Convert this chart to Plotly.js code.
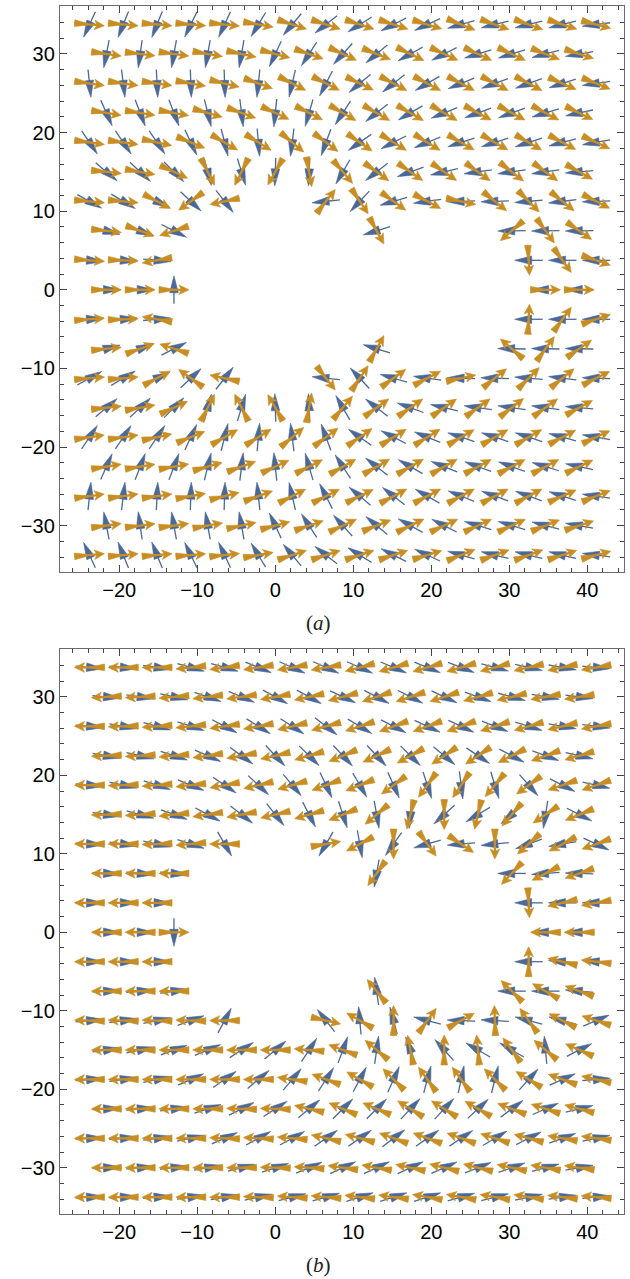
<!DOCTYPE html>
<html><head><meta charset="utf-8">
<script src="https://cdn.plot.ly/plotly-3.0.1.min.js"></script>
<style>html,body{margin:0;padding:0;background:#fff}</style>
</head><body><div id="chart" style="width:630px;height:1279px"></div>
<script>
// ---------- data ----------
const rowY = [33.75, 30, 26.25, 22.5, 18.75, 15, 11.25, 7.5, 3.75, 0, -3.75, -7.5, -11.25, -15, -18.75, -22.5, -26.25, -30, -33.75];
const xOdd  = [-23.82, -19.49, -15.16, -10.83, -6.50, -2.17, 2.17, 6.50, 10.83, 15.16, 19.49, 23.82, 28.15, 32.48, 36.81, 41.14];
const xEven = [-21.65, -17.32, -12.99, -8.66, -4.33, 0, 4.33, 8.66, 12.99, 17.32, 21.65, 25.98, 30.31, 34.64, 38.97];
const xR11 = [-23.82, -19.49, -15.16, -10.83, -6.50, 6.50, 10.83, 15.16, 19.49, 23.82, 28.15, 32.48, 36.81, 41.14];
const xR7  = [-21.65, -17.32, -12.99, 12.99, 30.31, 34.64, 38.97];
const xR3  = [-23.82, -19.49, -15.16, 32.48, 36.81, 41.14];
const xR0  = [-21.65, -17.32, -12.99, 34.64, 38.97];
const rowX = [xOdd, xEven, xOdd, xEven, xOdd, xEven, xR11, xR7, xR3, xR0, xR3, xR7, xR11, xEven, xOdd, xEven, xOdd, xEven, xOdd];

// panel (a): directions in degrees
const aBlue = [
 [-115,-112,-112,-116,-115,-121,-130,-142,-148,-153,-155,-164,-166,-166,-166,-173],
 [-101,-98,-100,-100,-100,-115,-123,-132,-140,-151,-153,-163,-163,-165,-170],
 [-84,-83,-87,-88,-88,-96,-103,-117,-140,-142,-150,-158,-160,-160,-162,-172],
 [-66,-69,-69,-76,-83,-96,-106,-123,-142,-150,-158,-160,-160,-163,-168],
 [-56,-56,-56,-65,-76,-85,-97,-110,-145,-153,-158,-162,-162,-162,-165,-170],
 [-40,-43,-45,-75,-73,-92,-93,-120,-142,-160,-167,-172,-172,-172,-175],
 [-29,-31,-25,-43,-52,-174,-133,-164,-172,-178,-178,-175,-173,-178],
 [-15,-22,-27,-163,-179,-179,-179],
 [-5,-5,-5,180,180,180],
 [0,0,90,180,180],
 [5,5,5,180,180,180],
 [15,22,27,163,179,179,179],
 [29,31,25,43,52,174,133,164,172,178,178,175,173,178],
 [40,43,45,75,73,92,93,120,142,160,167,172,172,172,175],
 [56,56,56,65,76,85,97,110,145,153,158,162,162,162,165,170],
 [66,69,69,76,83,96,106,123,142,150,158,160,160,163,168],
 [84,83,87,88,88,96,103,117,140,142,150,158,160,160,162,172],
 [101,98,100,100,100,115,123,132,140,151,153,163,163,165,170],
 [115,112,112,116,115,121,130,142,148,153,155,164,166,166,166,173]
];
const aOrange = [
 [-5,-5,-5,-5,-6,-10,-18,-18,-18,-18,-17,-22,-20,-20,-18,-15],
 [-8,-7,-8,-10,-12,-15,-19,-25,-22,-26,-25,-25,-25,-22,-18],
 [-8,-8,-8,-10,-14,-20,-27,-27,-26,-28,-28,-28,-28,-28,-24,-22],
 [-9,-9,-10,-16,-20,-25,-27,-30,-30,-30,-30,-28,-28,-28,-26],
 [-8,-8,-12,-22,-30,-32,-40,-37,-35,-32,-32,-30,-30,-30,-28,-25],
 [-6,-10,-25,-63,-117,-120,-80,-50,-36,-35,-35,-36,-38,-36,-29],
 [-5,-5,-28,-144,-168,52,-56,-36,-28,-12,-39,-45,-39,-27],
 [-6,-20,-162,-61,-139,-54,-35],
 [-4,-2,-170,-87,-54,-19],
 [0,0,0,0,0],
 [4,2,170,87,54,19],
 [6,20,162,61,139,54,35],
 [5,5,28,144,168,-52,56,36,28,12,39,45,39,27],
 [6,10,25,63,117,120,80,50,36,35,35,36,38,36,29],
 [8,8,12,22,30,32,40,37,35,32,32,30,30,30,28,25],
 [9,9,10,16,20,25,27,30,30,30,30,28,28,28,26],
 [8,8,8,10,14,20,27,27,26,28,28,28,28,28,24,22],
 [8,7,8,10,12,15,19,25,22,26,25,25,25,22,18],
 [5,5,5,5,6,10,18,18,18,18,17,22,20,20,18,15]
];
// panel (b): directions in degrees
const bBlue = [
 [-5,-5,-8,-16,-16,-22,-24,-24,-24,-23,-22,-21,-15,-13,-10,-5],
 [-5,-8,-12,-19,-23,-29,-29,-25,-28,-27,-25,-20,-15,-10,-7],
 [-5,-10,-15,-18,-28,-32,-33,-38,-31,-27,-25,-25,-22,-17,-10,-7],
 [-10,-13,-18,-24,-36,-47,-45,-47,-47,-45,-40,-34,-28,-20,-13],
 [-5,-12,-18,-22,-34,-43,-50,-65,-60,-66,-72,-83,-73,-49,-27,-13],
 [-8,-15,-20,-28,-38,-52,-63,-72,-80,-95,-138,-149,-140,-99,-27],
 [-3,-8,-12,-18,-60,-120,-80,-125,-164,-175,-174,-160,-170,-25],
 [-3,-5,-5,-100,180,-176,178],
 [0,0,0,180,180,180],
 [0,0,-90,180,180],
 [0,0,0,180,175,175],
 [3,5,8,98,180,180,175],
 [5,8,12,20,62,128,95,105,165,178,177,165,165,23],
 [8,12,20,23,33,40,57,70,82,110,132,150,150,95,27],
 [5,8,12,24,35,40,50,57,62,66,75,78,76,48,24,5],
 [3,5,8,18,27,33,40,45,45,47,47,43,37,24,14],
 [3,5,8,12,24,29,29,35,35,37,35,34,31,27,20,12],
 [3,5,6,10,14,18,23,25,25,25,24,22,20,15,10],
 [3,3,5,8,10,12,14,16,18,18,18,16,14,12,8,5]
];
const bOrange = [
 [180,180,180,186,188,189,190,190,195,196,196,196,195,193,192,190],
 [183,183,185,187,188,190,192,195,198,198,198,196,193,190,189],
 [180,182,184,186,188,190,193,195,198,200,200,200,198,196,193,190],
 [182,183,185,188,190,193,196,203,205,209,214,214,207,200,196],
 [180,182,184,186,190,193,196,200,202,216,234,236,230,216,199,199],
 [182,184,186,188,190,193,196,202,220,256,270,257,229,214,202],
 [180,180,182,185,180,10,208,270,-54,-34,-90,222,208,200],
 [180,180,180,234,227,207,199],
 [180,180,180,-87,193,190],
 [180,180,0,180,180],
 [180,180,180,90,167,173],
 [180,180,180,129,135,150,160],
 [178,178,178,178,180,-13,150,90,54,29,92,126,153,162],
 [180,180,180,180,180,180,175,160,140,101,90,95,126,140,156],
 [180,180,180,180,180,180,172,160,150,135,126,126,135,148,160,167],
 [180,180,180,180,178,178,167,157,157,148,148,150,159,162,165],
 [180,180,180,180,178,177,175,167,165,160,160,160,162,165,170,172],
 [180,180,180,180,180,178,176,172,170,168,166,166,168,170,172],
 [180,180,180,180,180,178,176,175,173,172,170,170,170,171,173,175]
];
const xTickVals = [-20, -10, 0, 10, 20, 30, 40];
const yTickVals = [-30, -20, -10, 0, 10, 20, 30];
const panelLabels = ['(<i>a</i>)', '(<i>b</i>)'];

// ---------- glyph construction ----------
const XR = [-27.6, 44.7], YR = [-35.9, 36.1];
const PW = 564, PH = 566;
const SX = PW / (XR[1] - XR[0]), SY = PH / (YR[1] - YR[0]);
const BLUE = '#4a6898', ORANGE = '#c88e24';

function pt(x0, y0, ux, uy, s, t) {
  return [x0 + (ux * s - uy * t) / SX, y0 + (uy * s + ux * t) / SY];
}
function build(angles, kind) {
  const lx = [], ly = [], fx = [], fy = [];
  const push = (ax, ay, arr) => { for (const p of arr) { ax.push(p[0]); ay.push(p[1]); } ax.push(null); ay.push(null); };
  rowY.forEach((y0, r) => {
    rowX[r].forEach((x0, i) => {
      const a = angles[r][i] * Math.PI / 180, ux = Math.cos(a), uy = Math.sin(a);
      const P = (s, t) => pt(x0, y0, ux, uy, s, t);
      if (kind === 'blue') {
        push(lx, ly, [P(-14, 0), P(-1, 0)]);
        push(fx, fy, [P(-3, 4.3), P(14, 0), P(-3, -4.3), P(-3, 4.3)]);
      } else {
        push(lx, ly, [P(-15, 0), P(8, 0)]);
        push(fx, fy, [P(-15, 3.4), P(2, 0), P(-15, -3.4), P(-15, 3.4)]);
        push(fx, fy, [P(15, 0), P(5, 4.8), P(7.5, 0), P(5, -4.8), P(15, 0)]);
      }
    });
  });
  return { lx, ly, fx, fy };
}
const traces = [];
[[aBlue, aOrange, 'x', 'y'], [bBlue, bOrange, 'x2', 'y2']].forEach(([B, O, xa, ya]) => {
  [[B, 'blue', BLUE, 1.3], [O, 'orange', ORANGE, 2.3]].forEach(([A, kind, col, w]) => {
    const g = build(A, kind);
    traces.push({ type: 'scatter', mode: 'lines', x: g.lx, y: g.ly, xaxis: xa, yaxis: ya,
      line: { color: col, width: w }, hoverinfo: 'skip', showlegend: false });
    traces.push({ type: 'scatter', mode: 'lines', x: g.fx, y: g.fy, xaxis: xa, yaxis: ya,
      fill: 'toself', fillcolor: col, line: { color: col, width: 0.6 }, hoverinfo: 'skip', showlegend: false });
  });
});

// ---------- layout ----------
const tickFont = { family: 'Liberation Sans, Arial, sans-serif', size: 20, color: '#000' };
function ax(range, vals, extra) {
  return Object.assign({
    range: range, autorange: false, showgrid: false, zeroline: false,
    showline: true, mirror: 'allticks', linecolor: '#6a6a6a', linewidth: 1.2,
    ticks: 'inside', ticklen: 7, tickwidth: 1, tickcolor: '#444',
    tickmode: 'array', tickvals: vals, tickfont: tickFont,
    minor: { ticks: 'inside', ticklen: 4, tickwidth: 1, tickcolor: '#444', dtick: 2, tick0: 0, showgrid: false },
    fixedrange: true
  }, extra);
}
const M = { l: 60, r: 6, t: 6, b: 65 };
const H = 1279, plotH = H - M.t - M.b;
const dA = [(1214 - 572) / plotH, 1], dB = [0, (1214 - 649) / plotH];
const layout = {
  width: 630, height: H, margin: M, paper_bgcolor: '#fff', plot_bgcolor: '#fff',
  xaxis: ax(XR, xTickVals, { anchor: 'y', domain: [0, 1] }),
  yaxis: ax(YR, yTickVals, { anchor: 'x', domain: dA }),
  xaxis2: ax(XR, xTickVals, { anchor: 'y2', domain: [0, 1] }),
  yaxis2: ax(YR, yTickVals, { anchor: 'x2', domain: dB }),
  annotations: [
    { text: panelLabels[0], xref: 'paper', yref: 'paper', x: (318 - 60) / 564, y: (1214 - 623) / plotH,
      showarrow: false, xanchor: 'center', yanchor: 'middle', font: { family: 'Liberation Serif, serif', size: 21, color: '#222' } },
    { text: panelLabels[1], xref: 'paper', yref: 'paper', x: (318 - 60) / 564, y: (1214 - 1265) / plotH,
      showarrow: false, xanchor: 'center', yanchor: 'middle', font: { family: 'Liberation Serif, serif', size: 21, color: '#222' } }
  ]
};
Plotly.newPlot('chart', traces, layout, { staticPlot: true, displayModeBar: false });
</script></body></html>
